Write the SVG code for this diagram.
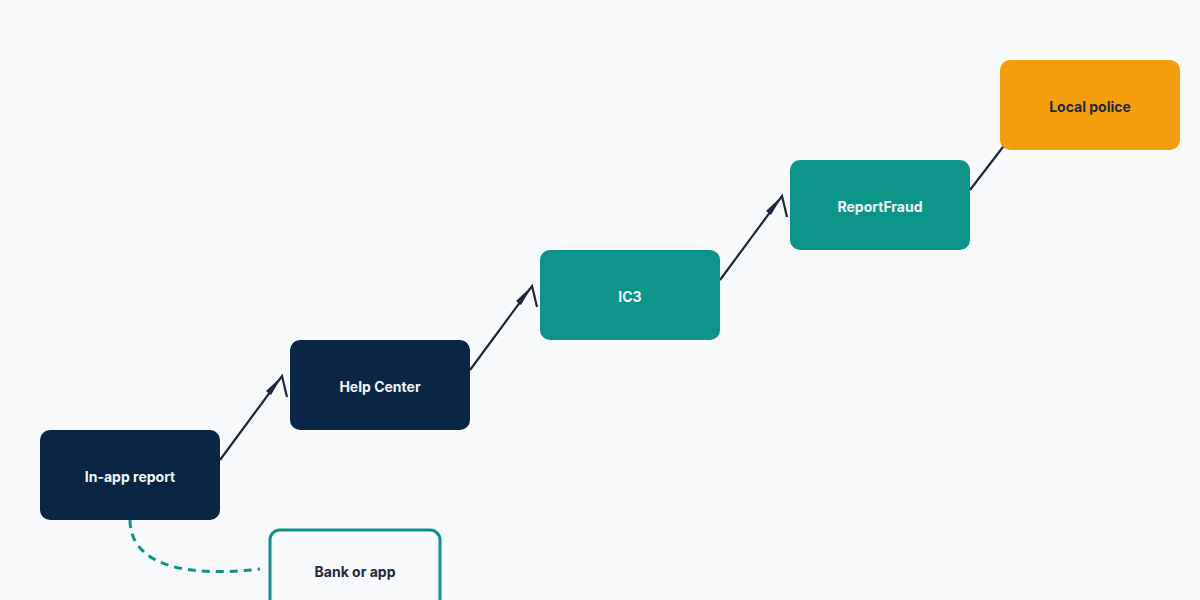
<svg xmlns="http://www.w3.org/2000/svg" width="1200" height="600" viewBox="0 0 1200 600">
<style>
.lbl{font-family:Inter,"Liberation Sans",sans-serif;font-size:14px;font-weight:700;text-anchor:middle;dominant-baseline:central}
.light{fill:#f1f5f9}
.dark{fill:#1e293b}
.conn{stroke:#1e293b;stroke-width:2.2;fill:none;stroke-linejoin:miter}
.navy{fill:#0b2545}
.teal{fill:#0d9488}
</style>
<rect width="1200" height="600" fill="#f8fafc"/>
<g id="connectors">
<path class="conn" d="M220,460 L282,376 L287,397"/>
<path d="M282,376 L266,391 L271,395 Z" fill="#1e293b"/>
<path class="conn" d="M470,370 L532,286 L537,307"/>
<path d="M532,286 L516,301 L521,305 Z" fill="#1e293b"/>
<path class="conn" d="M720,280 L782,196 L787,217"/>
<path d="M782,196 L766,211 L771,215 Z" fill="#1e293b"/>
<path class="conn" d="M970,190 L1006,143"/>
<path d="M130,520 C130,555 165,580 260,569" stroke="#0d9488" stroke-width="3" fill="none" stroke-dasharray="8 6"/>
</g>
<g id="node-inapp">
<rect class="navy" x="40" y="430" width="180" height="90" rx="10"/>
<text class="lbl light" x="130" y="476">In-app report</text>
</g>
<g id="node-help">
<rect class="navy" x="290" y="340" width="180" height="90" rx="10"/>
<text class="lbl light" x="380" y="386">Help Center</text>
</g>
<g id="node-ic3">
<rect class="teal" x="540" y="250" width="180" height="90" rx="10"/>
<text class="lbl light" x="630" y="296">IC3</text>
</g>
<g id="node-reportfraud">
<rect class="teal" x="790" y="160" width="180" height="90" rx="10"/>
<text class="lbl light" x="880" y="206">ReportFraud</text>
</g>
<g id="node-police">
<rect x="1000" y="60" width="180" height="90" rx="10" fill="#f59e0b"/>
<text class="lbl dark" x="1090" y="106">Local police</text>
</g>
<g id="node-bank">
<rect x="270" y="530" width="170" height="84" rx="10" fill="#f8fafc" stroke="#0d9488" stroke-width="3"/>
<text class="lbl dark" x="355" y="571">Bank or app</text>
</g>
</svg>
